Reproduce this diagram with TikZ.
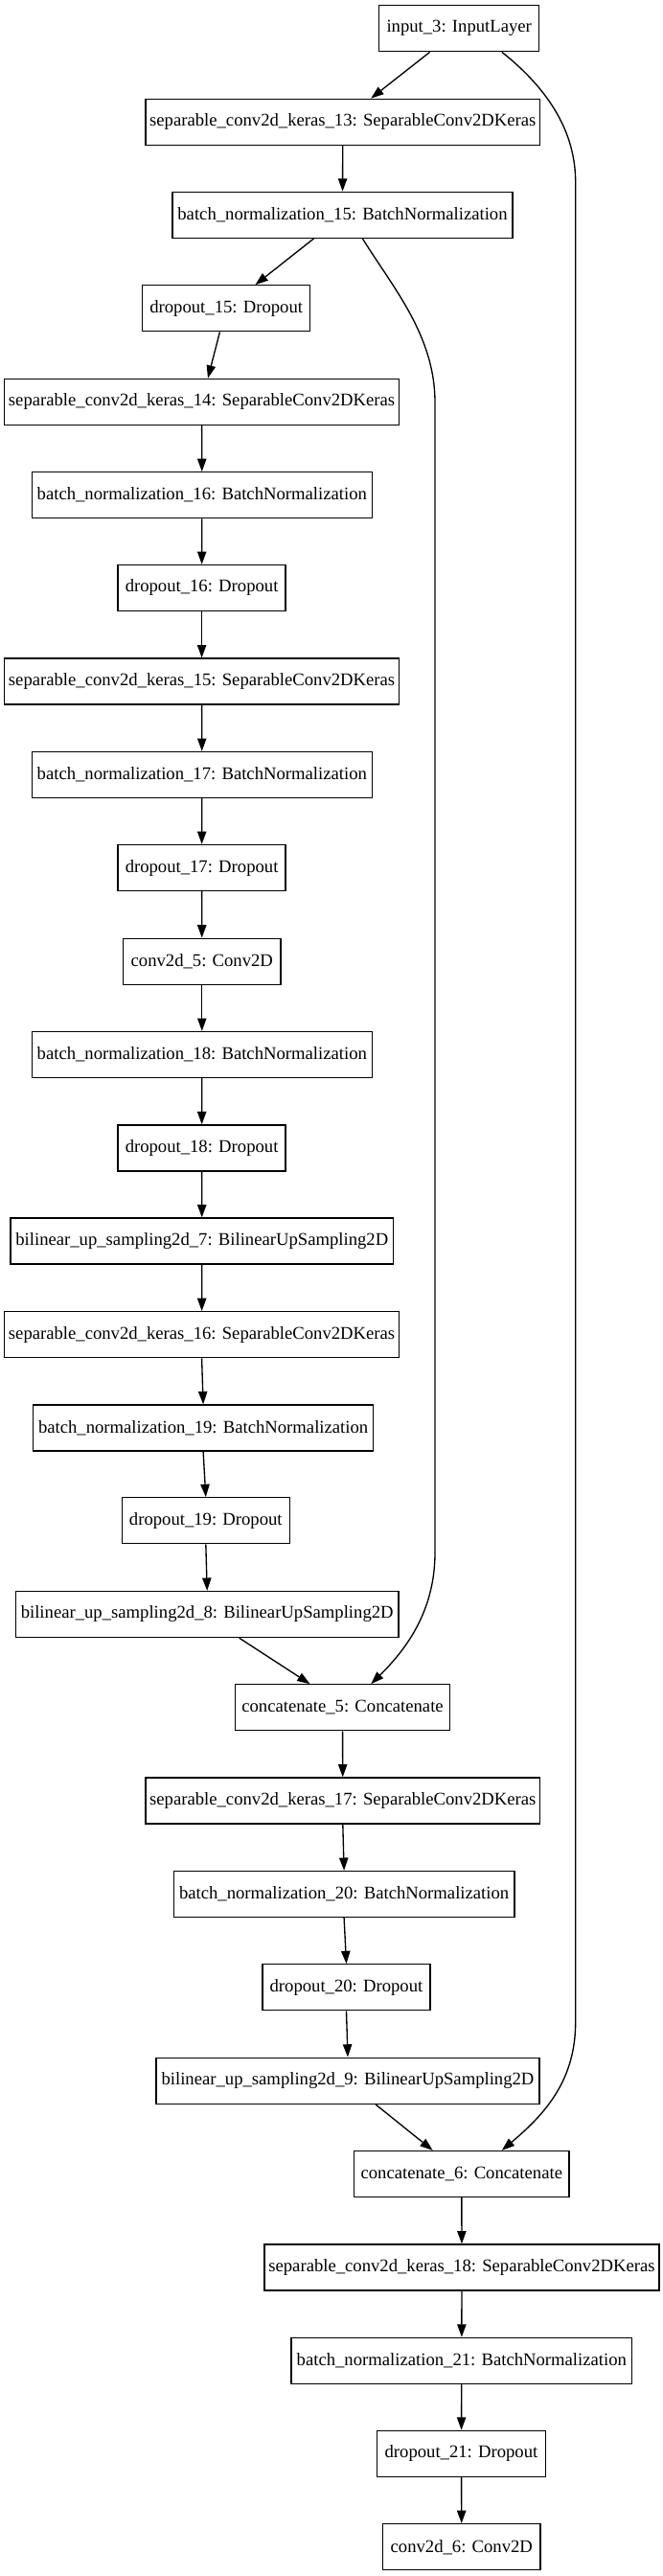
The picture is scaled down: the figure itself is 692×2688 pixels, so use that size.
\documentclass[tikz,border=0pt]{standalone}
\usepackage{fontspec}
\setmainfont{Liberation Serif}
\usetikzlibrary{arrows.meta}
\begin{document}
\begin{tikzpicture}[x=0.75pt,y=-0.75pt,
  layer/.style={draw=black,line width=1pt,minimum height=36pt,inner sep=0pt,
    font=\fontsize{14pt}{16pt}\selectfont},
  edge/.style={line width=1pt,-{Triangle[length=10pt,width=7pt]}}]
\useasboundingbox (0,0) rectangle (692,2688);
\node[layer,minimum width=125.3pt] (in)  at (479.2,29.7)  {input\_3: InputLayer};
\node[layer,minimum width=308.7pt] (s13) at (357.8,127.3) {separable\_conv2d\_keras\_13: SeparableConv2DKeras};
\node[layer,minimum width=266.3pt] (b15) at (357.5,224.3) {batch\_normalization\_15: BatchNormalization};
\node[layer,minimum width=131.2pt] (d15) at (236.2,321.8) {dropout\_15: Dropout};
\node[layer,minimum width=308.7pt] (s14) at (210.6,419.3) {separable\_conv2d\_keras\_14: SeparableConv2DKeras};
\node[layer,minimum width=266.3pt] (b16) at (210.8,516.7) {batch\_normalization\_16: BatchNormalization};
\node[layer,minimum width=131.2pt] (d16) at (210.6,613.5) {dropout\_16: Dropout};
\node[layer,minimum width=308.7pt] (s15) at (210.6,711.0) {separable\_conv2d\_keras\_15: SeparableConv2DKeras};
\node[layer,minimum width=266.3pt] (b17) at (210.8,808.5) {batch\_normalization\_17: BatchNormalization};
\node[layer,minimum width=131.2pt] (d17) at (210.6,905.5) {dropout\_17: Dropout};
\node[layer,minimum width=123.3pt] (c5)  at (210.8,1003.2) {conv2d\_5: Conv2D};
\node[layer,minimum width=266.3pt] (b18) at (210.8,1100.5) {batch\_normalization\_18: BatchNormalization};
\node[layer,minimum width=131.2pt] (d18) at (210.6,1197.9) {dropout\_18: Dropout};
\node[layer,minimum width=299.7pt] (u7)  at (210.8,1295.0) {bilinear\_up\_sampling2d\_7: BilinearUpSampling2D};
\node[layer,minimum width=308.7pt] (s16) at (210.6,1392.7) {separable\_conv2d\_keras\_16: SeparableConv2DKeras};
\node[layer,minimum width=266.3pt] (b19) at (212.1,1490.0) {batch\_normalization\_19: BatchNormalization};
\node[layer,minimum width=131.2pt] (d19) at (214.8,1586.8) {dropout\_19: Dropout};
\node[layer,minimum width=299.7pt] (u8)  at (216.2,1684.5) {bilinear\_up\_sampling2d\_8: BilinearUpSampling2D};
\node[layer,minimum width=168.4pt] (k5)  at (357.5,1781.8) {concatenate\_5: Concatenate};
\node[layer,minimum width=308.7pt] (s17) at (357.8,1879.0) {separable\_conv2d\_keras\_17: SeparableConv2DKeras};
\node[layer,minimum width=266.6pt] (b20) at (359.1,1976.5) {batch\_normalization\_20: BatchNormalization};
\node[layer,minimum width=131.2pt] (d20) at (361.5,2073.8) {dropout\_20: Dropout};
\node[layer,minimum width=300pt]   (u9)  at (363.0,2171.2) {bilinear\_up\_sampling2d\_9: BilinearUpSampling2D};
\node[layer,minimum width=168.4pt] (k6)  at (481.8,2268.5) {concatenate\_6: Concatenate};
\node[layer,minimum width=309pt]   (s18) at (482.0,2366.0) {separable\_conv2d\_keras\_18: SeparableConv2DKeras};
\node[layer,minimum width=266.6pt] (b21) at (481.8,2463.3) {batch\_normalization\_21: BatchNormalization};
\node[layer,minimum width=131.6pt] (d21) at (481.5,2560.3) {dropout\_21: Dropout};
\node[layer,minimum width=123.3pt] (c6)  at (481.8,2657.7) {conv2d\_6: Conv2D};

\draw[edge] ([xshift=-22.95pt]in.south) -- ([xshift=22.05pt]s13.north);
\draw[edge] (s13) -- (b15);
\draw[edge] ([xshift=-22.5pt]b15.south) -- ([xshift=22.7pt]d15.north);
\draw[edge] ([xshift=-5.1pt]d15.south) -- ([xshift=4.8pt]s14.north);
\draw[edge] (s14) -- (b16);
\draw[edge] (b16) -- (d16);
\draw[edge] (d16) -- (s15);
\draw[edge] (s15) -- (b17);
\draw[edge] (b17) -- (d17);
\draw[edge] (d17) -- (c5);
\draw[edge] (c5) -- (b18);
\draw[edge] (b18) -- (d18);
\draw[edge] (d18) -- (u7);
\draw[edge] (u7) -- (s16);
\draw[edge] (s16.south) -- (b19.north);
\draw[edge] (b19.south) -- (d19.north);
\draw[edge] (d19.south) -- (u8.north);
\draw[edge] ([xshift=25.1pt]u8.south) -- ([xshift=-25.5pt]k5.north);
\draw[edge] (k5) -- (s17);
\draw[edge] (s17.south) -- (b20.north);
\draw[edge] (b20.south) -- (d20.north);
\draw[edge] (d20.south) -- (u9.north);
\draw[edge] ([xshift=21.75pt]u9.south) -- ([xshift=-22.6pt]k6.north);
\draw[edge] (k6) -- (s18);
\draw[edge] (s18) -- (b21);
\draw[edge] (b21) -- (d21);
\draw[edge] (d21) -- (c6);
\draw[edge] ([xshift=15.7pt]b15.south) .. controls (410,300) and (454,350) .. (454,420)
  -- (454,1620) .. controls (454,1680) and (425,1720) .. ([xshift=22.3pt]k5.north);
\draw[edge] ([xshift=33.5pt]in.south) .. controls (575,95) and (600.7,140) .. (600.7,190)
  -- (600.7,2110) .. controls (600.7,2170) and (570,2205) .. ([xshift=31.5pt]k6.north);
\end{tikzpicture}
\end{document}
